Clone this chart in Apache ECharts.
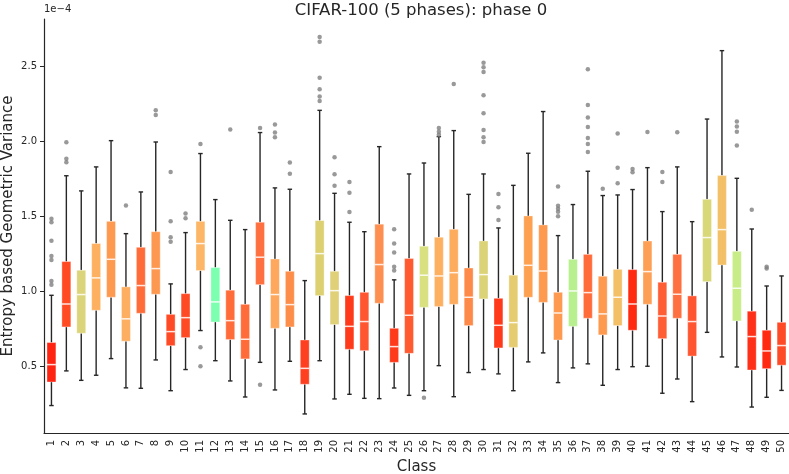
<!DOCTYPE html>
<html>
<head>
<meta charset="utf-8">
<script src="https://cdn.jsdelivr.net/npm/echarts@6/dist/echarts.min.js"></script>
<style>
  html, body { margin: 0; padding: 0; background: #fff; }
  #chart { width: 789px; height: 474px; }
</style>
</head>
<body>
<div id="chart"></div>
<script>
'use strict';

// values in units of 1e-4
var classes = [];
for (var c = 1; c <= 50; c++) { classes.push(String(c)); }

var whiskerLow = [0.238, 0.469, 0.406, 0.440, 0.551, 0.356, 0.353, 0.542, 0.337, 0.478,
  0.738, 0.537, 0.402, 0.295, 0.526, 0.342, 0.533, 0.182, 0.537, 0.282,
  0.313, 0.286, 0.284, 0.355, 0.306, 0.337, 0.504, 0.297, 0.458, 0.478,
  0.449, 0.337, 0.529, 0.589, 0.391, 0.489, 0.516, 0.373, 0.478, 0.497,
  0.500, 0.320, 0.415, 0.264, 0.726, 0.562, 0.495, 0.228, 0.293, 0.339];

var q1 = [0.395, 0.762, 0.720, 0.873, 0.960, 0.667, 0.853, 0.980, 0.637, 0.691,
  1.138, 0.795, 0.678, 0.549, 1.044, 0.753, 0.762, 0.380, 0.971, 0.778,
  0.613, 0.604, 0.920, 0.526, 0.586, 0.893, 0.898, 0.913, 0.771, 0.949,
  0.622, 0.626, 0.960, 0.926, 0.675, 0.766, 0.820, 0.709, 0.771, 0.740,
  0.913, 0.684, 0.820, 0.568, 1.064, 1.175, 0.802, 0.475, 0.484, 0.507];

var median = [0.511, 0.915, 0.978, 1.089, 1.213, 0.816, 1.038, 1.151, 0.731, 0.824,
  1.318, 0.929, 0.804, 0.680, 1.227, 0.978, 0.911, 0.486, 1.251, 1.004,
  0.766, 0.798, 1.178, 0.631, 0.840, 1.107, 1.102, 1.124, 0.960, 1.111,
  0.773, 0.791, 1.173, 1.135, 0.855, 1.002, 0.991, 0.849, 0.960, 0.915,
  1.131, 0.835, 0.980, 0.798, 1.358, 1.411, 1.020, 0.698, 0.602, 0.638];

var q3 = [0.658, 1.198, 1.140, 1.318, 1.466, 1.029, 1.293, 1.397, 0.846, 0.984,
  1.466, 1.158, 1.007, 0.913, 1.460, 1.215, 1.133, 0.675, 1.471, 1.133,
  0.971, 0.993, 1.447, 0.753, 1.218, 1.300, 1.360, 1.413, 1.155, 1.335,
  0.953, 1.107, 1.502, 1.442, 0.993, 1.213, 1.246, 1.100, 1.146, 1.144,
  1.335, 1.060, 1.246, 0.969, 1.613, 1.771, 1.266, 0.867, 0.740, 0.793];

var whiskerHigh = [0.973, 1.770, 1.669, 1.829, 2.004, 1.384, 1.662, 1.995, 1.049, 1.391,
  1.918, 1.611, 1.473, 1.411, 2.058, 1.689, 1.680, 1.071, 2.206, 1.653,
  1.460, 1.397, 1.964, 1.076, 1.782, 1.855, 2.031, 2.071, 1.646, 1.782,
  1.422, 1.706, 1.920, 2.198, 1.371, 1.578, 1.800, 1.638, 1.642, 1.678,
  1.824, 1.531, 1.829, 1.464, 2.148, 2.604, 1.753, 1.415, 1.035, 1.102];

var boxColors = ['#ff2412', '#ff4a22', '#dcd47a', '#fdb060', '#fd9a50', '#fdae61', '#ff6c3a', '#fd9850', '#ff4b25', '#ff4b25',
  '#fdb566', '#7dffb0', '#ff6c3a', '#ff6c3a', '#ff7040', '#fda85c', '#fd8e4a', '#ff4020', '#dcd070', '#e0d078',
  '#ff3a1a', '#ff5530', '#fd9050', '#ff3a1a', '#ff5a30', '#d8e080', '#fdb060', '#fdab5c', '#fd8a48', '#dcd378',
  '#ff3a1a', '#e6cc70', '#fda050', '#fd9a50', '#fd9a50', '#b8f090', '#ff6c3a', '#fd9a50', '#f3c068', '#ff2a10',
  '#fda055', '#ff5e35', '#ff7040', '#ff5530', '#d8d878', '#f3c068', '#c8ec88', '#ff3018', '#ff2a10', '#ff4a28'];

// [class number, value]
var outliers = [
  [1, 1.484], [1, 1.460], [1, 1.337], [1, 1.235], [1, 1.209], [1, 1.069], [1, 1.044],
  [2, 1.993], [2, 1.884], [2, 1.860],
  [6, 1.571],
  [8, 2.206], [8, 2.175],
  [9, 1.795], [9, 1.466], [9, 1.360], [9, 1.330],
  [10, 1.518], [10, 1.486],
  [11, 1.982], [11, 0.626], [11, 0.500],
  [13, 2.078],
  [15, 2.089], [15, 0.377],
  [16, 2.111], [16, 2.058], [16, 2.026],
  [17, 1.858], [17, 1.784],
  [19, 2.695], [19, 2.664], [19, 2.424], [19, 2.346], [19, 2.298], [19, 2.269],
  [20, 1.893], [20, 1.780], [20, 1.704],
  [21, 1.729], [21, 1.657], [21, 1.528],
  [24, 1.413], [24, 1.318], [24, 1.258], [24, 1.164], [24, 1.138],
  [26, 0.290],
  [27, 2.089], [27, 2.064], [27, 2.044],
  [28, 2.382],
  [30, 2.524], [30, 2.493], [30, 2.462], [30, 2.306], [30, 2.186], [30, 2.075], [30, 2.026], [30, 1.995],
  [31, 1.649], [31, 1.560], [31, 1.475],
  [35, 1.698], [35, 1.570], [35, 1.550], [35, 1.530], [35, 1.500],
  [37, 2.480], [37, 2.242], [37, 2.158], [37, 2.095], [37, 2.022], [37, 1.982], [37, 1.929],
  [38, 1.684],
  [39, 2.051], [39, 1.824], [39, 1.720],
  [40, 1.815], [40, 1.793],
  [41, 2.062],
  [42, 1.795], [42, 1.729],
  [43, 2.060],
  [47, 2.131], [47, 2.098], [47, 2.064], [47, 1.971],
  [48, 1.544],
  [49, 1.164], [49, 1.151]
];

var yTicks = [0.5, 1.0, 1.5, 2.0, 2.5];

var font = 'DejaVu Sans';
var ink = '#262626';

var boxData = classes.map(function(name, i) {
  return [i, whiskerLow[i], q1[i], median[i], q3[i], whiskerHigh[i]];
});

var outlierData = outliers.map(function(p) { return [p[0] - 1, p[1]]; });

var renderBox = function(params, api) {
  var x = api.value(0);
  var lo = api.coord([x, api.value(1)]);
  var b1 = api.coord([x, api.value(2)]);
  var md = api.coord([x, api.value(3)]);
  var b3 = api.coord([x, api.value(4)]);
  var hi = api.coord([x, api.value(5)]);
  var band = api.size([1, 0])[0];
  var bw = band * 0.6,
      cw = band * 0.3;
  var cx = lo[0];
  var wStyle = { stroke: ink, lineWidth: 1.4 };
  return {
    type: 'group',
    children: [
      { type: 'line', shape: { x1: cx, y1: lo[1], x2: cx, y2: b1[1] }, style: wStyle },
      { type: 'line', shape: { x1: cx, y1: b3[1], x2: cx, y2: hi[1] }, style: wStyle },
      { type: 'line', shape: { x1: cx - cw / 2, y1: lo[1], x2: cx + cw / 2, y2: lo[1] }, style: wStyle },
      { type: 'line', shape: { x1: cx - cw / 2, y1: hi[1], x2: cx + cw / 2, y2: hi[1] }, style: wStyle },
      {
        type: 'rect',
        shape: { x: cx - bw / 2, y: b3[1], width: bw, height: b1[1] - b3[1] },
        style: { fill: boxColors[params.dataIndex], stroke: 'rgba(255,255,255,0.35)', lineWidth: 1 }
      },
      {
        type: 'line',
        shape: { x1: cx - bw / 2, y1: md[1], x2: cx + bw / 2, y2: md[1] },
        style: { stroke: 'rgba(255,255,255,0.85)', lineWidth: 1.5 }
      }
    ]
  };
};

var chart = echarts.init(document.getElementById('chart'), null, { renderer: 'canvas' });

chart.setOption({
  animation: false,
  backgroundColor: '#fff',
  title: {
    text: 'CIFAR-100 (5 phases): phase 0',
    left: 416,
    top: -3,
    textAlign: 'center',
    textStyle: { fontFamily: font, fontSize: 16.5, fontWeight: 'normal', color: ink }
  },
  graphic: [{
    type: 'text',
    left: 44,
    top: 4,
    style: { text: '1e\u22124', fontFamily: font, fontSize: 10, fill: ink }
  }],
  grid: { left: 44, right: 0, top: 19, bottom: 41, containLabel: false, outerBoundsMode: 'none' },
  xAxis: {
    type: 'category',
    data: classes,
    name: 'Class',
    nameLocation: 'middle',
    nameGap: 27,
    nameMoveOverlap: false,
    nameTextStyle: { fontFamily: font, fontSize: 15, color: ink },
    axisLine: { lineStyle: { color: ink, width: 1.2 } },
    axisTick: { alignWithLabel: true, length: 4, lineStyle: { color: ink } },
    axisLabel: { rotate: 90, interval: 0, margin: 7, fontFamily: font, fontSize: 10, color: ink },
    splitLine: { show: false }
  },
  yAxis: {
    type: 'value',
    min: 0.055,
    max: 2.815,
    name: 'Entropy based Geometric Variance',
    nameLocation: 'middle',
    nameRotate: 90,
    nameGap: 28,
    nameMoveOverlap: false,
    nameTextStyle: { fontFamily: font, fontSize: 15, color: ink },
    axisLine: { show: true, lineStyle: { color: ink, width: 1.2 } },
    axisTick: { show: true, length: 4, customValues: yTicks, lineStyle: { color: ink } },
    axisLabel: {
      customValues: yTicks,
      margin: 7,
      fontFamily: font,
      fontSize: 10,
      color: ink,
      formatter: function(v) { return v.toFixed(1); }
    },
    splitLine: { show: false }
  },
  series: [
    {
      type: 'custom',
      renderItem: renderBox,
      encode: { x: 0, y: [1, 2, 3, 4, 5] },
      data: boxData,
      z: 2
    },
    {
      type: 'scatter',
      data: outlierData,
      symbolSize: 4.5,
      itemStyle: { color: '#808080' },
      z: 3
    }
  ]
});
</script>
</body>
</html>
